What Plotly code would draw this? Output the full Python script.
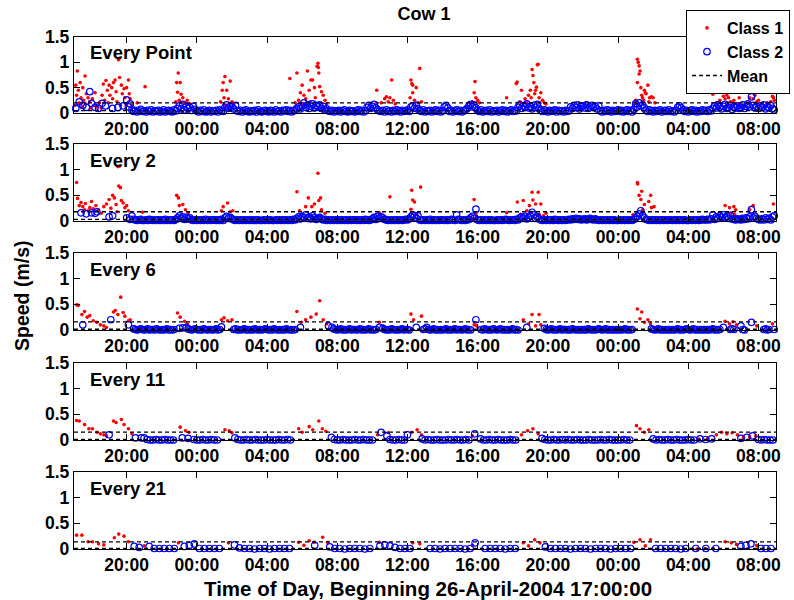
import plotly.graph_objects as go

N = None  # no class-2 sample at this slot

# ---- time axis: hours after 26-April-2004 17:00:00 ----
SPAN_HOURS = 40
TICK_HOURS = [3, 7, 11, 15, 19, 23, 27, 31, 35, 39]
TICK_TEXT = ["20:00", "00:00", "04:00", "08:00", "12:00",
             "16:00", "20:00", "00:00", "04:00", "08:00"]
Y_TICKS = [0, 0.5, 1, 1.5]
Y_TICK_TEXT = ["0", "0.5", "1", "1.5"]

PANEL_NAMES = ["Every Point", "Every 2", "Every 6", "Every 11", "Every 21"]
MEAN_C1 = [0.20, 0.18, 0.16, 0.155, 0.14]   # m/s
MEAN_C2 = [0.045, 0.03, 0.015, 0.01, 0.01]  # m/s

# ---- Class 1 (active) samples: (hour, speed m/s) ----
P1_C1 = [
    (0.19, .83), (0.63, .73), (0.1, .55), (0.35, .6), (0.25, .45), (0.5, .5), (0.7, .38), (0.15, .35),
    (0.4, .3), (0.55, .25), (0.8, .3), (0.3, .2), (0.65, .18), (0.9, .22), (1.05, .28), (1.15, .15),
    (1.3, .12), (1.45, .2), (0.05, .15), (0.45, .12), (1.6, .35), (1.67, .57), (1.82, .64), (1.9, .45),
    (2.0, .55), (2.05, .35), (2.15, .5), (2.25, .6), (2.34, .65), (2.4, .42), (2.53, 1.05), (2.58, 1.08),
    (2.6, .7), (2.7, .55), (2.75, .38), (2.85, .48), (2.9, .3), (3.0, .5), (3.1, .65), (3.15, .38),
    (3.2, .28), (1.75, .25), (1.95, .2), (2.2, .28), (2.45, .22), (2.65, .15), (2.95, .18), (3.3, .15),
    (1.2, .4), (0.95, .1), (1.55, .1), (4.05, .52), (3.6, .2),
    (5.94, .79), (5.85, .6), (6.05, .6), (5.9, .41), (6.1, .37), (6.0, .25), (6.2, .3), (6.3, .2),
    (5.8, .22), (6.45, .25), (6.6, .18),
    (8.6, .72), (8.5, .6), (8.9, .63), (8.45, .45), (8.7, .45), (8.55, .3), (8.8, .28), (8.35, .22),
    (9.0, .22), (8.65, .15), (9.1, .18),
    (12.3, .68), (12.7, .79), (13.0, .55), (13.3, .83), (13.5, .65), (13.6, .65), (13.85, .92), (13.9, .98),
    (13.92, .9), (13.95, .79), (12.9, .4), (13.1, .35), (13.4, .45), (13.7, .5), (14.0, .52), (14.1, .42),
    (14.2, .35), (13.2, .28), (13.75, .3), (12.8, .25), (13.45, .22), (14.3, .25), (12.6, .2), (14.4, .18),
    (13.0, .18),
    (17.25, .45), (18.1, .65), (17.7, .28), (17.9, .22), (18.0, .3), (18.2, .25), (17.5, .2), (17.8, .32),
    (18.3, .18),
    (19.2, .65), (19.25, .58), (19.3, .55), (19.7, .88), (19.3, .4), (19.5, .5), (19.15, .3), (19.4, .25),
    (19.6, .2), (19.8, .22),
    (22.85, .62), (22.8, .4), (22.9, .3), (22.7, .22), (23.0, .25), (22.6, .18), (23.1, .2),
    (24.65, .3), (25.2, .58), (25.25, .61), (25.5, .45), (26.1, .86), (26.15, .74), (26.45, .96), (26.4, .95),
    (26.2, .6), (26.35, .51), (26.0, .45), (26.3, .45), (26.6, .4), (25.9, .35), (26.5, .3), (25.7, .28),
    (26.05, .3), (26.25, .38), (26.7, .25), (25.4, .22), (26.8, .2), (25.8, .2), (26.55, .2), (26.9, .18),
    (32.1, 1.06), (32.15, 1.0), (32.2, .93), (32.25, .83), (32.2, .77), (32.1, .6), (32.7, .55), (32.3, .5),
    (32.5, .45), (32.55, .4), (32.35, .35), (32.4, .3), (32.6, .38), (32.8, .3), (32.9, .32), (33.0, .3),
    (32.0, .25), (32.45, .25), (32.75, .22), (31.9, .18), (33.1, .2),
    (36.4, .37), (36.9, .46), (37.0, .33), (37.1, .28), (37.2, .35), (37.3, .3), (37.4, .22), (37.15, .4),
    (36.8, .25), (37.5, .2), (37.6, .25), (36.6, .2), (37.8, .18), (38.6, .46), (38.5, .3), (38.7, .28),
    (38.8, .35), (38.9, .22), (38.4, .2), (39.0, .25), (39.2, .18), (39.5, .2), (39.75, .42), (39.8, .33),
    (39.85, .3), (39.7, .22), (39.9, .25), (38.2, .15), (37.9, .3),
]
P2_C1 = [
    (0.15, .75), (0.2, .44), (0.3, .3), (0.4, .36), (0.5, .28), (0.6, .22), (0.65, .34), (0.8, .2),
    (0.9, .26), (1.0, .38), (1.1, .24), (1.25, .3), (1.4, .22), (1.55, .15), (1.7, .28), (1.85, .33),
    (2.0, .42), (2.1, .25), (2.2, .5), (2.3, .45), (2.4, .32), (2.5, 1.06), (2.6, 1.07), (2.55, .68),
    (2.65, .65), (2.7, .4), (2.8, .35), (2.9, .26), (3.0, .3), (3.1, .2), (2.45, .18), (3.9, .17),
    (5.85, .5), (5.95, .45), (6.0, .3), (6.2, .32), (6.35, .22), (6.5, .16),
    (8.4, .2), (8.5, .28), (8.75, .35), (8.9, .18), (9.05, .2),
    (12.7, .57), (12.85, .2), (13.0, .12), (13.2, .28), (13.35, .45), (13.55, .28), (13.7, .33), (13.9, .93),
    (13.95, .4), (14.05, .45), (14.1, .22), (14.3, .15),
    (17.4, .16), (18.0, .47),
    (19.24, .6), (19.3, .41), (19.4, .37), (19.2, .23), (19.5, .13), (19.75, .66),
    (22.8, .42), (22.9, .14), (22.75, .05),
    (24.65, .16), (25.26, .37), (25.6, .4), (26.1, .56), (26.45, .56), (26.15, .41), (25.95, .3), (26.3, .33),
    (26.6, .33), (25.8, .2), (25.45, .13), (26.05, .17), (26.5, .13), (26.75, .1), (26.9, .15),
    (32.1, .75), (32.12, .72), (32.35, .58), (32.2, .5), (32.86, .5), (32.3, .42), (32.75, .38), (32.5, .32),
    (32.4, .22), (32.9, .26), (33.05, .28), (31.85, .12),
    (37.1, .3), (37.35, .26), (37.6, .28), (37.7, .22), (37.45, .15), (37.65, .12), (38.7, .3), (38.5, .22),
    (39.85, .33),
]
P3_C1 = [
    (0.15, .49), (0.25, .48), (0.45, .3), (0.6, .36), (0.75, .25), (0.9, .28), (1.1, .18), (1.3, .15),
    (1.5, .1), (1.7, .08), (1.85, .05), (2.25, .35), (2.35, .38), (2.5, .3), (2.66, .64), (2.8, .34),
    (2.9, .27), (3.1, .18), (3.2, .2),
    (5.9, .33), (6.05, .25), (6.3, .17), (6.45, .12),
    (8.4, .2), (8.55, .24), (8.75, .18), (9.0, .2),
    (12.7, .36), (12.95, .15), (13.2, .2), (13.5, .25), (13.8, .31), (14.0, .57), (14.2, .2), (14.4, .12),
    (17.4, .15), (17.6, .08),
    (19.2, .31), (19.35, .2), (19.8, .27),
    (22.8, .1), (22.95, .08),
    (25.6, .2), (25.9, .12), (26.1, .3), (26.3, .08), (26.5, .3), (26.6, .1),
    (32.1, .41), (32.25, .22), (32.35, .35), (32.5, .15), (32.7, .2), (32.85, .12),
    (37.1, .17), (37.35, .12), (37.55, .16), (37.75, .1), (38.9, .08), (39.8, .12),
]
P4_C1 = [
    (0.15, .38), (0.3, .37), (0.6, .3), (0.85, .22), (1.05, .22), (1.3, .15), (1.5, .12), (1.7, .1),
    (1.85, .08), (2.25, .37), (2.4, .34), (2.7, .4), (2.85, .3), (3.1, .22), (3.3, .12),
    (6.05, .25), (6.35, .18), (6.55, .15),
    (8.6, .2), (8.85, .18), (9.0, .14),
    (12.8, .22), (13.0, .15), (13.4, .26), (13.6, .2), (13.95, .37), (14.15, .22), (14.35, .17),
    (17.3, .1), (17.9, .14),
    (19.25, .15), (19.55, .2), (19.8, .1),
    (22.7, .08),
    (25.5, .1), (25.85, .18), (26.15, .22), (26.45, .12),
    (32.05, .28), (32.25, .22), (32.5, .15), (32.75, .2),
    (35.6, .02), (36.1, .03), (36.6, .1), (36.9, .15), (37.2, .12), (37.5, .14), (37.8, .1),
    (38.15, .05), (38.5, .06), (38.85, .08),
]
P5_C1 = [
    (0.15, .27), (0.45, .27), (0.8, .14), (1.05, .14), (1.4, .1), (1.7, .08), (2.3, .22), (2.55, .29),
    (2.85, .25), (3.1, .14), (4.0, .06), (5.95, .12), (8.8, .12),
    (12.8, .13), (13.1, .07), (13.4, .16), (13.7, .13), (14.17, .23), (14.45, .13),
    (17.4, .13), (19.3, .12), (19.7, .1), (22.7, .07),
    (25.6, .12), (25.9, .06), (26.25, .18), (26.55, .12),
    (31.9, .13), (32.25, .18), (32.55, .06), (32.85, .18),
    (35.5, .0), (35.95, .01), (36.4, .01), (37.1, .14), (37.45, .12), (37.75, .09), (38.9, .07),
]

# ---- Class 2 (resting) samples, cm/s, regular sampling; one row per hour
#      (two hours per row in the last panel) ----
P1_C2 = [
    [N, 9, N, 22, N, 15, N, 11, N, 42],        # 17:00
    [19, N, 11, N, 9, N, 19, N, 14, N],        # 18:00
    [N, N, 9, N, N, 11, N, N, 14, N],          # 19:00
    [26, 12, 18, 6, 3, 5, 2, 4, 7, 3],         # 20:00
    [4, 2, 5, 3, 6, 2, 4, 3, 5, 2],            # 21:00
    [3, 6, 2, 4, 5, 3, 2, 6, 4, 9],            # 22:00
    [14, 8, 17, 6, 12, 9, 11, 5, 13, 7],       # 23:00
    [4, 2, 5, 3, 6, 2, 3, 5, 2, 4],            # 00:00
    [3, 5, 2, 6, 4, 3, 11, 16, 9, 13],         # 01:00
    [12, 8, 15, 4, 3, 5, 2, 4, 6, 3],          # 02:00
    [2, 4, 3, 5, 2, 6, 3, 2, 4, 5],            # 03:00
    [3, 2, 5, 4, 2, 6, 3, 4, 2, 5],            # 04:00
    [4, 6, 3, 5, 2, 4, 6, 9, 12, 8],           # 05:00
    [14, 20, 11, 16, 9, 13, 18, 10, 15, 12],   # 06:00
    [16, 9, 13, 6, 8, 4, 3, 5, 2, 4],          # 07:00
    [3, 5, 2, 4, 6, 3, 2, 5, 3, 4],            # 08:00
    [2, 4, 6, 3, 5, 2, 4, 11, 15, 9],          # 09:00
    [13, 17, 10, 6, 4, 3, 5, 2, 6, 3],         # 10:00
    [4, 2, 5, 3, 6, 4, 2, 5, 3, 4],            # 11:00
    [6, 3, 12, 14, 9, 15, 8, 5, 3, 6],         # 12:00
    [2, 4, 3, 5, 2, 4, 6, 3, 5, 2],            # 13:00
    [4, 12, 15, 10, 3, 5, 2, 4, 6, 3],         # 14:00
    [5, 2, 4, 6, 9, 14, 17, 12, 16, 10],       # 15:00
    [5, 3, 6, 2, 4, 5, 3, 6, 2, 4],            # 16:00
    [3, 5, 2, 4, 6, 3, 5, 2, 4, 6],            # 17:00
    [3, 5, 4, 11, 16, 9, 14, 12, 18, 10],      # 18:00
    [13, 8, 15, 11, 17, 9, 5, 3, 6, 4],        # 19:00
    [2, 5, 3, 4, 6, 2, 5, 3, 4, 2],            # 20:00
    [5, 3, 4, 12, 9, 15, 11, 16, 8, 13],       # 21:00
    [14, 10, 16, 9, 12, 15, 11, 13, 8, 14],    # 22:00
    [4, 2, 5, 3, 6, 4, 2, 5, 3, 4],            # 23:00
    [6, 3, 5, 2, 4, 6, 3, 5, 2, 7],            # 00:00
    [18, 12, 20, 14, 16, 10, 5, 3, 6, 4],      # 01:00
    [2, 5, 3, 4, 6, 2, 4, 5, 3, 6],            # 02:00
    [3, 4, 2, 5, 11, 14, 10, 6, 3, 5],         # 03:00
    [2, 4, 6, 3, 5, 2, 4, 3, 6, 4],            # 04:00
    [5, 3, 6, 4, 9, 14, 10, 16, 12, 8],        # 05:00
    [13, 17, 9, 11, 15, 7, 12, 10, 14, 9],     # 06:00
    [11, 16, 9, 13, 18, 12, 32, 15, 10, 13],   # 07:00
    [9, 14, 11, 16, 8, 12, 10, 15, 9, 6],      # 08:00
]
P2_C2 = [
    [N, N, N, N, 16, N, N, 14, N, N],          # 17:00
    [16, N, 15, 18, N, N, N, N, N, N],         # 18:00
    [8, N, 10, N, N, N, N, N, N, N],           # 19:00
    [6, N, 3, 10, 3, 2, 1, 2, 3, 1],           # 20:00
    [1, 2, 1, 3, 2, 1, 2, 1, 2, 1],            # 21:00
    [2, 1, 3, 1, 2, 1, 2, 1, 3, 6],            # 22:00
    [10, 5, 8, 3, 7, 4, 6, 2, 1, 2],           # 23:00
    [1, 2, 1, 2, 1, 3, 1, 2, 1, 2],            # 00:00
    [2, 1, 2, 1, 3, 1, 6, 9, 5, 7],            # 01:00
    [4, 2, 1, 2, 1, 2, 1, 2, 1, 2],            # 02:00
    [1, 2, 1, 2, 1, 2, 1, 1, 2, 1],            # 03:00
    [2, 1, 2, 1, 1, 2, 1, 2, 1, 2],            # 04:00
    [1, 2, 1, 2, 1, 3, 2, 5, 8, 4],            # 05:00
    [9, 6, 12, 5, 8, 4, 10, 6, 3, 5],          # 06:00
    [7, 4, 2, 3, 1, 2, 1, 2, 1, 2],            # 07:00
    [1, 2, 1, 2, 1, 2, 1, 2, 1, 2],            # 08:00
    [2, 1, 2, 1, 2, 1, 3, 2, 1, 2],            # 09:00
    [4, 7, 3, 9, 5, 8, 6, 3, 2, 1],            # 10:00
    [2, 1, 2, 1, 2, 1, 2, 1, 2, 3],            # 11:00
    [2, 4, 8, 12, 10, 6, 10, 2, 1, 2],         # 12:00
    [1, 2, 1, 3, 1, 2, 1, 2, 1, 2],            # 13:00
    [2, 1, 2, 1, 2, 3, 2, 1, 12, 3],           # 14:00
    [2, 1, 2, 1, 2, 3, 6, 9, 5, 23],           # 15:00
    [2, 1, 2, 1, 2, 1, 2, 1, 2, 1],            # 16:00
    [1, 2, 1, 2, 1, 2, 3, 2, 1, 2],            # 17:00
    [2, 1, 3, 2, 6, 8, 5, 9, 4, 7],            # 18:00
    [10, 17, 12, 5, 8, 4, 2, 1, 2, 1],         # 19:00
    [2, 1, 2, 1, 3, 2, 1, 2, 1, 2],            # 20:00
    [1, 2, 3, 2, 4, 3, 5, 3, 4, 2],            # 21:00
    [3, 4, 2, 3, 5, 3, 2, 4, 2, 1],            # 22:00
    [2, 1, 2, 1, 2, 1, 2, 1, 2, 1],            # 23:00
    [1, 2, 1, 2, 1, 2, 1, 2, 1, 3],            # 00:00
    [6, 9, 14, 20, 11, 6, 3, 2, 1, 2],         # 01:00
    [1, 2, 1, 2, 1, 2, 1, 2, 1, 2],            # 02:00
    [2, 1, 2, 1, 2, 1, 2, 1, 2, 1],            # 03:00
    [1, 2, 1, 2, 1, 2, 1, 2, 3, 2],            # 04:00
    [2, 3, 2, 4, 12, 3, 8, 5, 10, 7],          # 05:00
    [12, 6, 9, 5, 11, 4, 3, 2, 4, 3],          # 06:00
    [2, 5, 3, 6, 4, 8, 22, 6, 9, 5],           # 07:00
    [3, 2, 4, 2, 6, 3, 5, 2, 8, 10],           # 08:00
]
P3_C2 = [
    [N, N, N, N, N, 10, N, N, N, N],           # 17:00
    [N, N, N, N, N, N, N, N, N, N],            # 18:00
    [N, 20, N, N, N, N, N, N, N, N],           # 19:00
    [N, 10, N, N, 2, 1, 0, 1, 2, 1],           # 20:00
    [0, 1, 2, 0, 1, 1, 0, 2, 1, 0],            # 21:00
    [1, 0, 1, 2, 0, 1, 0, 1, N, N],            # 22:00
    [3, N, 4, N, 5, 2, 1, 0, 1, 2],            # 23:00
    [1, 0, 1, 0, 2, 1, 0, 1, 1, 0],            # 00:00
    [1, 2, 0, 1, 6, N, N, N, N, N],            # 01:00
    [N, 1, 2, 0, 1, 0, 1, 2, 0, 1],            # 02:00
    [0, 1, 0, 2, 1, 0, 1, 0, 1, 2],            # 03:00
    [1, 0, 1, 0, 2, 1, 0, 1, 0, 1],            # 04:00
    [0, 2, 1, 0, 1, 0, 1, N, N, 5],            # 05:00
    [N, N, N, N, N, N, N, N, N, N],            # 06:00
    [N, N, N, N, N, 8, N, 5, 2, 1],            # 07:00
    [0, 1, 2, 0, 1, 0, 1, 2, 0, 1],            # 08:00
    [1, 0, 1, 2, 0, 1, 0, 1, 2, 0],            # 09:00
    [1, 0, 1, N, 5, N, 3, 1, 0, 1],            # 10:00
    [0, 2, 1, 0, 1, 0, 1, 2, 0, 1],            # 11:00
    [1, 0, N, N, N, 5, N, N, N, 1],            # 12:00
    [2, 5, 1, 0, 1, 2, 0, 1, 0, 1],            # 13:00
    [0, 1, 2, 0, 1, 0, 1, 2, 0, 1],            # 14:00
    [1, 0, 1, 2, 0, 1, 0, N, N, 20],           # 15:00
    [N, N, 1, 0, 2, 1, 0, 1, 0, 2],            # 16:00
    [1, 0, 1, 2, 0, 1, 0, 1, 0, 1],            # 17:00
    [2, 0, 1, 0, N, N, N, N, 5, N],            # 18:00
    [N, N, N, N, N, N, N, N, 3, 1],            # 19:00
    [0, 1, 2, 0, 1, 0, 1, 2, 0, 1],            # 20:00
    [1, 0, 1, 0, 2, 1, 0, 1, 0, 1],            # 21:00
    [0, 1, 0, 2, 1, 0, 1, 0, 1, 2],            # 22:00
    [1, 0, 1, 2, 0, 1, 0, 1, 0, 1],            # 23:00
    [0, 1, 0, 1, 2, 0, 1, 0, 1, N],            # 00:00
    [N, N, N, N, N, N, N, N, N, 2],            # 01:00
    [1, 0, 1, 2, 0, 1, 0, 1, 0, 1],            # 02:00
    [0, 1, 0, 1, 2, 0, 1, 0, 1, 2],            # 03:00
    [1, 0, 1, 2, 0, 1, 0, 1, 0, 1],            # 04:00
    [0, 1, 0, 1, 2, 0, 1, 0, 1, N],            # 05:00
    [5, N, N, N, 1, 2, 1, N, N, N],            # 06:00
    [8, 1, 0, N, N, N, 15, N, N, N],           # 07:00
    [N, N, N, 1, 2, 0, 1, N, N, 1],            # 08:00
]
P4_C2 = [
    [N, N, N, N, N, N],      # 17:00
    [N, N, N, N, N, N],      # 18:00
    [10, N, N, N, N, N],     # 19:00
    [N, N, N, 4, N, 4],      # 20:00
    [4, 1, 0, 0, 1, 0],      # 21:00
    [0, 1, 0, 0, 0, N],      # 22:00
    [N, 4, N, 3, N, 1],      # 23:00
    [0, 0, 1, 0, 0, 1],      # 00:00
    [0, 0, N, N, N, N],      # 01:00
    [N, 4, 1, 0, 0, 1],      # 02:00
    [0, 0, 1, 0, 0, 0],      # 03:00
    [1, 0, 0, 0, 1, 0],      # 04:00
    [0, 1, 0, N, N, N],      # 05:00
    [N, N, N, N, N, N],      # 06:00
    [N, N, N, N, 5, 1],      # 07:00
    [0, 0, 1, 0, 0, 0],      # 08:00
    [1, 0, 0, 1, 0, 0],      # 09:00
    [0, N, N, 15, N, 8],     # 10:00
    [1, 0, 0, 1, 0, 0],      # 11:00
    [10, N, N, N, N, 2],     # 12:00
    [0, 1, 0, 0, 1, 0],      # 13:00
    [0, 0, 1, 0, 0, 1],      # 14:00
    [0, 0, 1, 0, N, 12],     # 15:00
    [N, 2, 0, 0, 1, 0],      # 16:00
    [0, 1, 0, 0, 0, 1],      # 17:00
    [0, 0, N, N, N, N],      # 18:00
    [N, N, N, N, 3, 1],      # 19:00
    [0, 0, 1, 0, 0, 1],      # 20:00
    [0, 1, 0, 0, 1, 0],      # 21:00
    [0, 0, 1, 0, 0, 0],      # 22:00
    [1, 0, 0, 1, 0, 0],      # 23:00
    [0, 0, 1, 0, 0, N],      # 00:00
    [N, N, N, N, N, N],      # 01:00
    [2, 0, 1, 0, 0, 1],      # 02:00
    [0, 0, 1, 0, 0, 0],      # 03:00
    [1, 0, 0, N, 2, N],      # 04:00
    [1, N, 2, N, N, N],      # 05:00
    [N, N, N, N, N, N],      # 06:00
    [3, N, 5, N, 8, N],      # 07:00
    [1, 0, 1, 0, 0, 0],      # 08:00
]
P5_C2 = [
    [N, N, N, N, N, N, N],       # 17:00
    [N, N, N, N, N, 5, 3],       # 19:00
    [N, 5, 1, 1, 1, 1, 1],       # 21:00
    [N, 5, 7, 10, 1, 1, 1],      # 23:00
    [1, 1, N, N, 8, 2, 1],       # 01:00
    [1, 0, 1, 1, 0, 1, 1],       # 03:00
    [1, 1, N, N, N, N, 7],       # 05:00
    [N, N, 4, 1, 1, 0, 1],       # 07:00
    [1, 1, 0, 1, N, 6, 8],       # 09:00
    [6, 3, 1, 1, 1, N, N],       # 11:00
    [N, 1, 1, 0, 1, 1, 1],       # 13:00
    [1, 0, 1, 12, N, 1, 1],      # 15:00
    [1, 1, 0, 1, 1, N, N],       # 17:00
    [N, N, N, 4, 1, 1, 1],       # 19:00
    [1, 0, 1, 1, 1, 0, 1],       # 21:00
    [1, 1, 0, 1, 1, 1, 1],       # 23:00
    [N, N, N, N, 1, 1, 1],       # 01:00
    [1, 1, 0, 1, N, 1, N],       # 03:00
    [1, N, 1, N, N, N, N],       # 05:00
    [5, 7, 10, N, 1, 1, 1],      # 07:00
]
C1_SETS = [P1_C1, P2_C1, P3_C1, P4_C1, P5_C1]
C2_SETS = [P1_C2, P2_C2, P3_C2, P4_C2, P5_C2]
C2_STEP_HOURS = [0.1, 0.1, 0.1, 1 / 6, 2 / 7]

# ---- styling / layout ----
FONT = "Liberation Sans, Arial, Helvetica, sans-serif"
RED = "#ff0000"
BLUE = "#0000ff"
W, H = 794, 600
M_L, M_R, M_T, M_B = 74, 18, 37, 51
PANEL_PX = [(37, 113), (144, 221), (253, 330), (363, 440), (472, 549)]  # (top, bottom)
PLOT_H = H - M_T - M_B
PLOT_W = W - M_L - M_R


def c2_series(rows, step):
    ts, vs = [], []
    i = 0
    for row in rows:
        for val in row:
            if val is not None:
                ts.append(i * step)
                vs.append(val / 100.0)
            i += 1
    return ts, vs


def bold(size):
    return dict(family=FONT, size=size, color="black", weight="bold")


fig = go.Figure()
layout_axes = {}
shapes = []
annotations = []

for k in range(5):
    sfx = "" if k == 0 else str(k + 1)
    xref, yref = "x" + sfx, "y" + sfx
    top, bot = PANEL_PX[k]
    dom = [(H - M_B - bot) / PLOT_H, (H - M_B - top) / PLOT_H]

    c1 = C1_SETS[k]
    fig.add_trace(go.Scatter(
        x=[p[0] for p in c1], y=[p[1] for p in c1], mode="markers",
        name="Class 1", legendgroup="c1", showlegend=(k == 0),
        marker=dict(symbol="circle", size=3.6, color=RED, line=dict(width=0)),
        xaxis=xref, yaxis=yref, cliponaxis=False))

    t2, v2 = c2_series(C2_SETS[k], C2_STEP_HOURS[k])
    fig.add_trace(go.Scatter(
        x=t2, y=v2, mode="markers",
        name="Class 2", legendgroup="c2", showlegend=(k == 0),
        marker=dict(symbol="circle-open", size=6.5, color=BLUE, line=dict(width=1.2, color=BLUE)),
        xaxis=xref, yaxis=yref, cliponaxis=False))

    for m in (MEAN_C1[k], MEAN_C2[k]):
        shapes.append(dict(type="line", xref=xref + " domain", yref=yref,
                           x0=0, x1=1, y0=m, y1=m, layer="above",
                           line=dict(color="black", width=1.3, dash="4px,3px")))

    annotations.append(dict(text=PANEL_NAMES[k], xref=xref + " domain", yref=yref + " domain",
                            x=0.02, y=0.79, xanchor="left", yanchor="middle", showarrow=False,
                            font=bold(18.5)))

    axis_common = dict(showline=True, linecolor="black", linewidth=1.3, mirror="ticks",
                       ticks="inside", ticklen=6, tickwidth=1.3, tickcolor="black",
                       showgrid=False, zeroline=False, tickfont=bold(17.5))
    layout_axes["xaxis" + sfx] = dict(axis_common, domain=[0, 1], anchor=yref,
                                      range=[0, SPAN_HOURS], tickmode="array",
                                      tickvals=TICK_HOURS, ticktext=TICK_TEXT)
    layout_axes["yaxis" + sfx] = dict(axis_common, domain=dom, anchor=xref,
                                      range=[0, 1.5], tickmode="array",
                                      tickvals=Y_TICKS, ticktext=Y_TICK_TEXT)

# legend entry for the mean lines
fig.add_trace(go.Scatter(x=[None], y=[None], mode="lines", name="Mean",
                         line=dict(color="black", width=1.5, dash="4px,3px"),
                         xaxis="x", yaxis="y"))

annotations.append(dict(text="Time of Day, Beginning 26-April-2004 17:00:00",
                        xref="paper", yref="paper", x=(428 - M_L) / PLOT_W,
                        y=(H - M_B - 588) / PLOT_H,
                        xanchor="center", yanchor="middle", showarrow=False, font=bold(20.5)))
annotations.append(dict(text="Speed (m/s)", textangle=-90,
                        xref="paper", yref="paper", x=(22 - M_L) / PLOT_W,
                        y=(H - M_B - 296) / PLOT_H, xanchor="center", yanchor="middle",
                        showarrow=False, font=bold(19.5)))

fig.update_layout(
    width=W, height=H,
    margin=dict(l=M_L, r=M_R, t=M_T, b=M_B, autoexpand=False),
    paper_bgcolor="white", plot_bgcolor="white",
    font=bold(17),
    title=dict(text="Cow 1", x=(424 - M_L) / PLOT_W, xref="paper", xanchor="center",
               y=1 - 14 / H, yanchor="middle", font=bold(18)),
    legend=dict(x=(686 - M_L) / PLOT_W, y=(H - M_B - 10) / PLOT_H,
                xanchor="left", yanchor="top", bgcolor="white",
                bordercolor="black", borderwidth=1, font=bold(16),
                tracegroupgap=0, itemwidth=30),
    shapes=shapes, annotations=annotations,
    **layout_axes,
)

fig.write_html("out.html")
